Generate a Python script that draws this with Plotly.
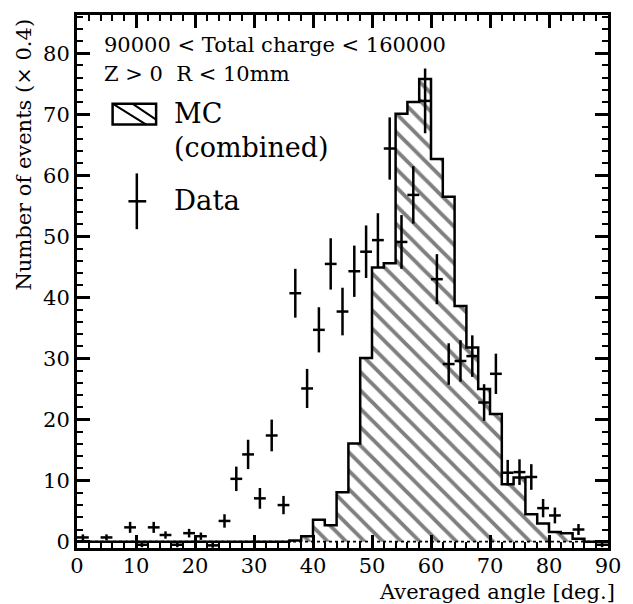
import plotly.graph_objects as go

# ---------------- data ----------------
# MC (combined) histogram, 2-degree bins from 0 to 90 deg
mc_edges = [0, 2, 4, 6, 8, 10, 12, 14, 16, 18, 20, 22, 24, 26, 28, 30, 32, 34, 36, 38, 40,
            42, 44, 46, 48, 50, 52, 54, 56, 58, 60, 62, 64, 66, 68, 70, 72, 74, 76, 78, 80,
            82, 84, 86, 88, 90]
mc_values = [0, 0, 0, 0, 0, 0, 0, 0, 0, 0, 0, 0, 0, 0, 0, 0, 0, 0,
             0.2, 0.9, 3.6, 2.7, 8.1, 16.1, 30.1, 44.9, 45.6, 70.1, 72.0, 75.8,
             62.7, 56.5, 38.6, 31.8, 25.0, 20.9, 9.4, 10.5, 4.5, 3.0, 1.6, 1.4, 0.5, 0, 0]

# Data points (bin centres, values, errors)
data_x = [1, 5, 9, 11, 13, 15, 17, 19, 21, 23, 25, 27, 29, 31, 33, 35, 37, 39, 41, 43,
          45, 47, 49, 51, 53, 55, 57, 59, 61, 63, 65, 67, 69, 71, 73, 75, 77, 79, 81, 85, 89]
data_y = [0.7, 0.7, 2.35, -0.5, 2.35, 1.1, -0.5, 1.4, 0.9, -0.6, 3.4, 10.3, 14.3, 7.1, 17.4,
          6.0, 40.7, 25.1, 34.7, 45.5, 37.7, 44.3, 47.5, 49.4, 64.4, 49.1, 56.8, 72.2, 43.0,
          29.1, 29.6, 30.4, 22.8, 27.5, 11.3, 11.4, 10.6, 5.5, 4.3, 2.0, -0.5]
data_err = [0.5, 0.5, 0.9, 0.4, 0.9, 0.6, 0.4, 0.7, 0.6, 0.4, 1.1, 2.0, 2.4, 1.7, 2.6,
            1.5, 4.0, 3.2, 3.7, 4.2, 3.9, 4.2, 4.3, 4.4, 5.1, 4.4, 4.7, 5.3, 4.1,
            3.4, 3.4, 3.4, 3.0, 3.3, 2.1, 2.1, 2.1, 1.5, 1.3, 0.9, 0.4]
data_xerr = 1.0

x_ticks = [0, 10, 20, 30, 40, 50, 60, 70, 80, 90]
y_ticks = [0, 10, 20, 30, 40, 50, 60, 70, 80]

FONT = "DejaVu Serif"

# ---------------- figure ----------------
fig = go.Figure()

step_x = mc_edges
step_y = mc_values + [mc_values[-1]]

fig.add_trace(go.Scatter(
    x=step_x, y=step_y, mode="lines", line=dict(color="black", width=2.5, shape="hv"),
    fill="tozeroy", fillcolor="white",
    fillpattern=dict(shape="\\", size=13, solidity=0.3, fgcolor="black", bgcolor="white"),
    showlegend=False, hoverinfo="skip"))

fig.add_trace(go.Scatter(
    x=data_x, y=data_y, mode="markers",
    marker=dict(size=0, color="rgba(0,0,0,0)", line=dict(width=0)),
    error_y=dict(type="data", array=data_err, width=0, thickness=2.5, color="black"),
    error_x=dict(type="constant", value=data_xerr, width=0, thickness=2.5, color="black"),
    showlegend=False))

W, H = 633, 604
L, R, T, B = 77, 19, 13, 56
pw, ph = W - L - R, H - T - B


def px(x):
    return (x - L) / pw


def py(y):
    return (H - B - y) / ph


shapes = [
    # dotted zero line
    dict(type="line", xref="x", yref="y", x0=0, x1=90, y0=0, y1=0,
         line=dict(color="black", width=1.8, dash="dot")),
    # legend: MC box
    dict(type="rect", xref="paper", yref="paper", x0=px(113), x1=px(157), y0=py(123), y1=py(102),
         line=dict(color="black", width=2.5), fillcolor="white"),
    dict(type="line", xref="paper", yref="paper", x0=px(113), x1=px(147), y0=py(102), y1=py(123),
         line=dict(color="black", width=2)),
    dict(type="line", xref="paper", yref="paper", x0=px(133), x1=px(157), y0=py(102), y1=py(118),
         line=dict(color="black", width=2)),
    # legend: data cross
    dict(type="line", xref="paper", yref="paper", x0=px(137.5), x1=px(137.5), y0=py(172), y1=py(228),
         line=dict(color="black", width=2.5)),
    dict(type="line", xref="paper", yref="paper", x0=px(129), x1=px(147), y0=py(200), y1=py(200),
         line=dict(color="black", width=2.5)),
]

annotations = [
    dict(text="90000 &lt; Total charge &lt; 160000", xref="paper", yref="paper",
         x=px(102), y=py(43), xanchor="left", yanchor="middle", showarrow=False,
         font=dict(family=FONT, size=21, color="black")),
    dict(text="Z &gt; 0\u00a0\u00a0R &lt; 10mm", xref="paper", yref="paper",
         x=px(102), y=py(72), xanchor="left", yanchor="middle", showarrow=False,
         font=dict(family=FONT, size=21, color="black")),
    dict(text="MC", xref="paper", yref="paper", x=px(173), y=py(112), xanchor="left",
         yanchor="middle", showarrow=False, font=dict(family=FONT, size=27, color="black")),
    dict(text="(combined)", xref="paper", yref="paper", x=px(173), y=py(146), xanchor="left",
         yanchor="middle", showarrow=False, font=dict(family=FONT, size=27, color="black")),
    dict(text="Data", xref="paper", yref="paper", x=px(173), y=py(199), xanchor="left",
         yanchor="middle", showarrow=False, font=dict(family=FONT, size=27.5, color="black")),
    dict(text="Averaged angle [deg.]", xref="paper", yref="paper", x=px(623), y=py(592),
         xanchor="right", yanchor="middle", showarrow=False,
         font=dict(family=FONT, size=21, color="black")),
    dict(text="Number of events (× 0.4)", xref="paper", yref="paper", x=px(23), y=py(15),
         xanchor="center", yanchor="top", textangle=-90, showarrow=False,
         font=dict(family=FONT, size=21, color="black")),
]

axis_common = dict(showgrid=False, zeroline=False, showline=True, linewidth=3, linecolor="black",
                   mirror="ticks", ticks="inside", tickcolor="black", tickwidth=2.5, ticklen=13,
                   tickfont=dict(family=FONT, size=21, color="black"))

fig.update_layout(
    width=W, height=H, margin=dict(l=L, r=R, t=T, b=B),
    paper_bgcolor="white", plot_bgcolor="white",
    xaxis=dict(range=[0, 90], tickmode="array", tickvals=x_ticks, ticktext=[str(v) for v in x_ticks],
               minor=dict(dtick=2, tick0=0, ticks="inside", ticklen=6, tickwidth=2, tickcolor="black"),
               ticklabelstandoff=-3, **axis_common),
    yaxis=dict(range=[-1.03, 86.27], tickmode="array", tickvals=y_ticks, ticktext=[str(v) for v in y_ticks],
               minor=dict(dtick=2, tick0=0, ticks="inside", ticklen=6, tickwidth=2, tickcolor="black"),
               **axis_common),
    shapes=shapes, annotations=annotations, showlegend=False,
)

fig.write_html("out.html")
